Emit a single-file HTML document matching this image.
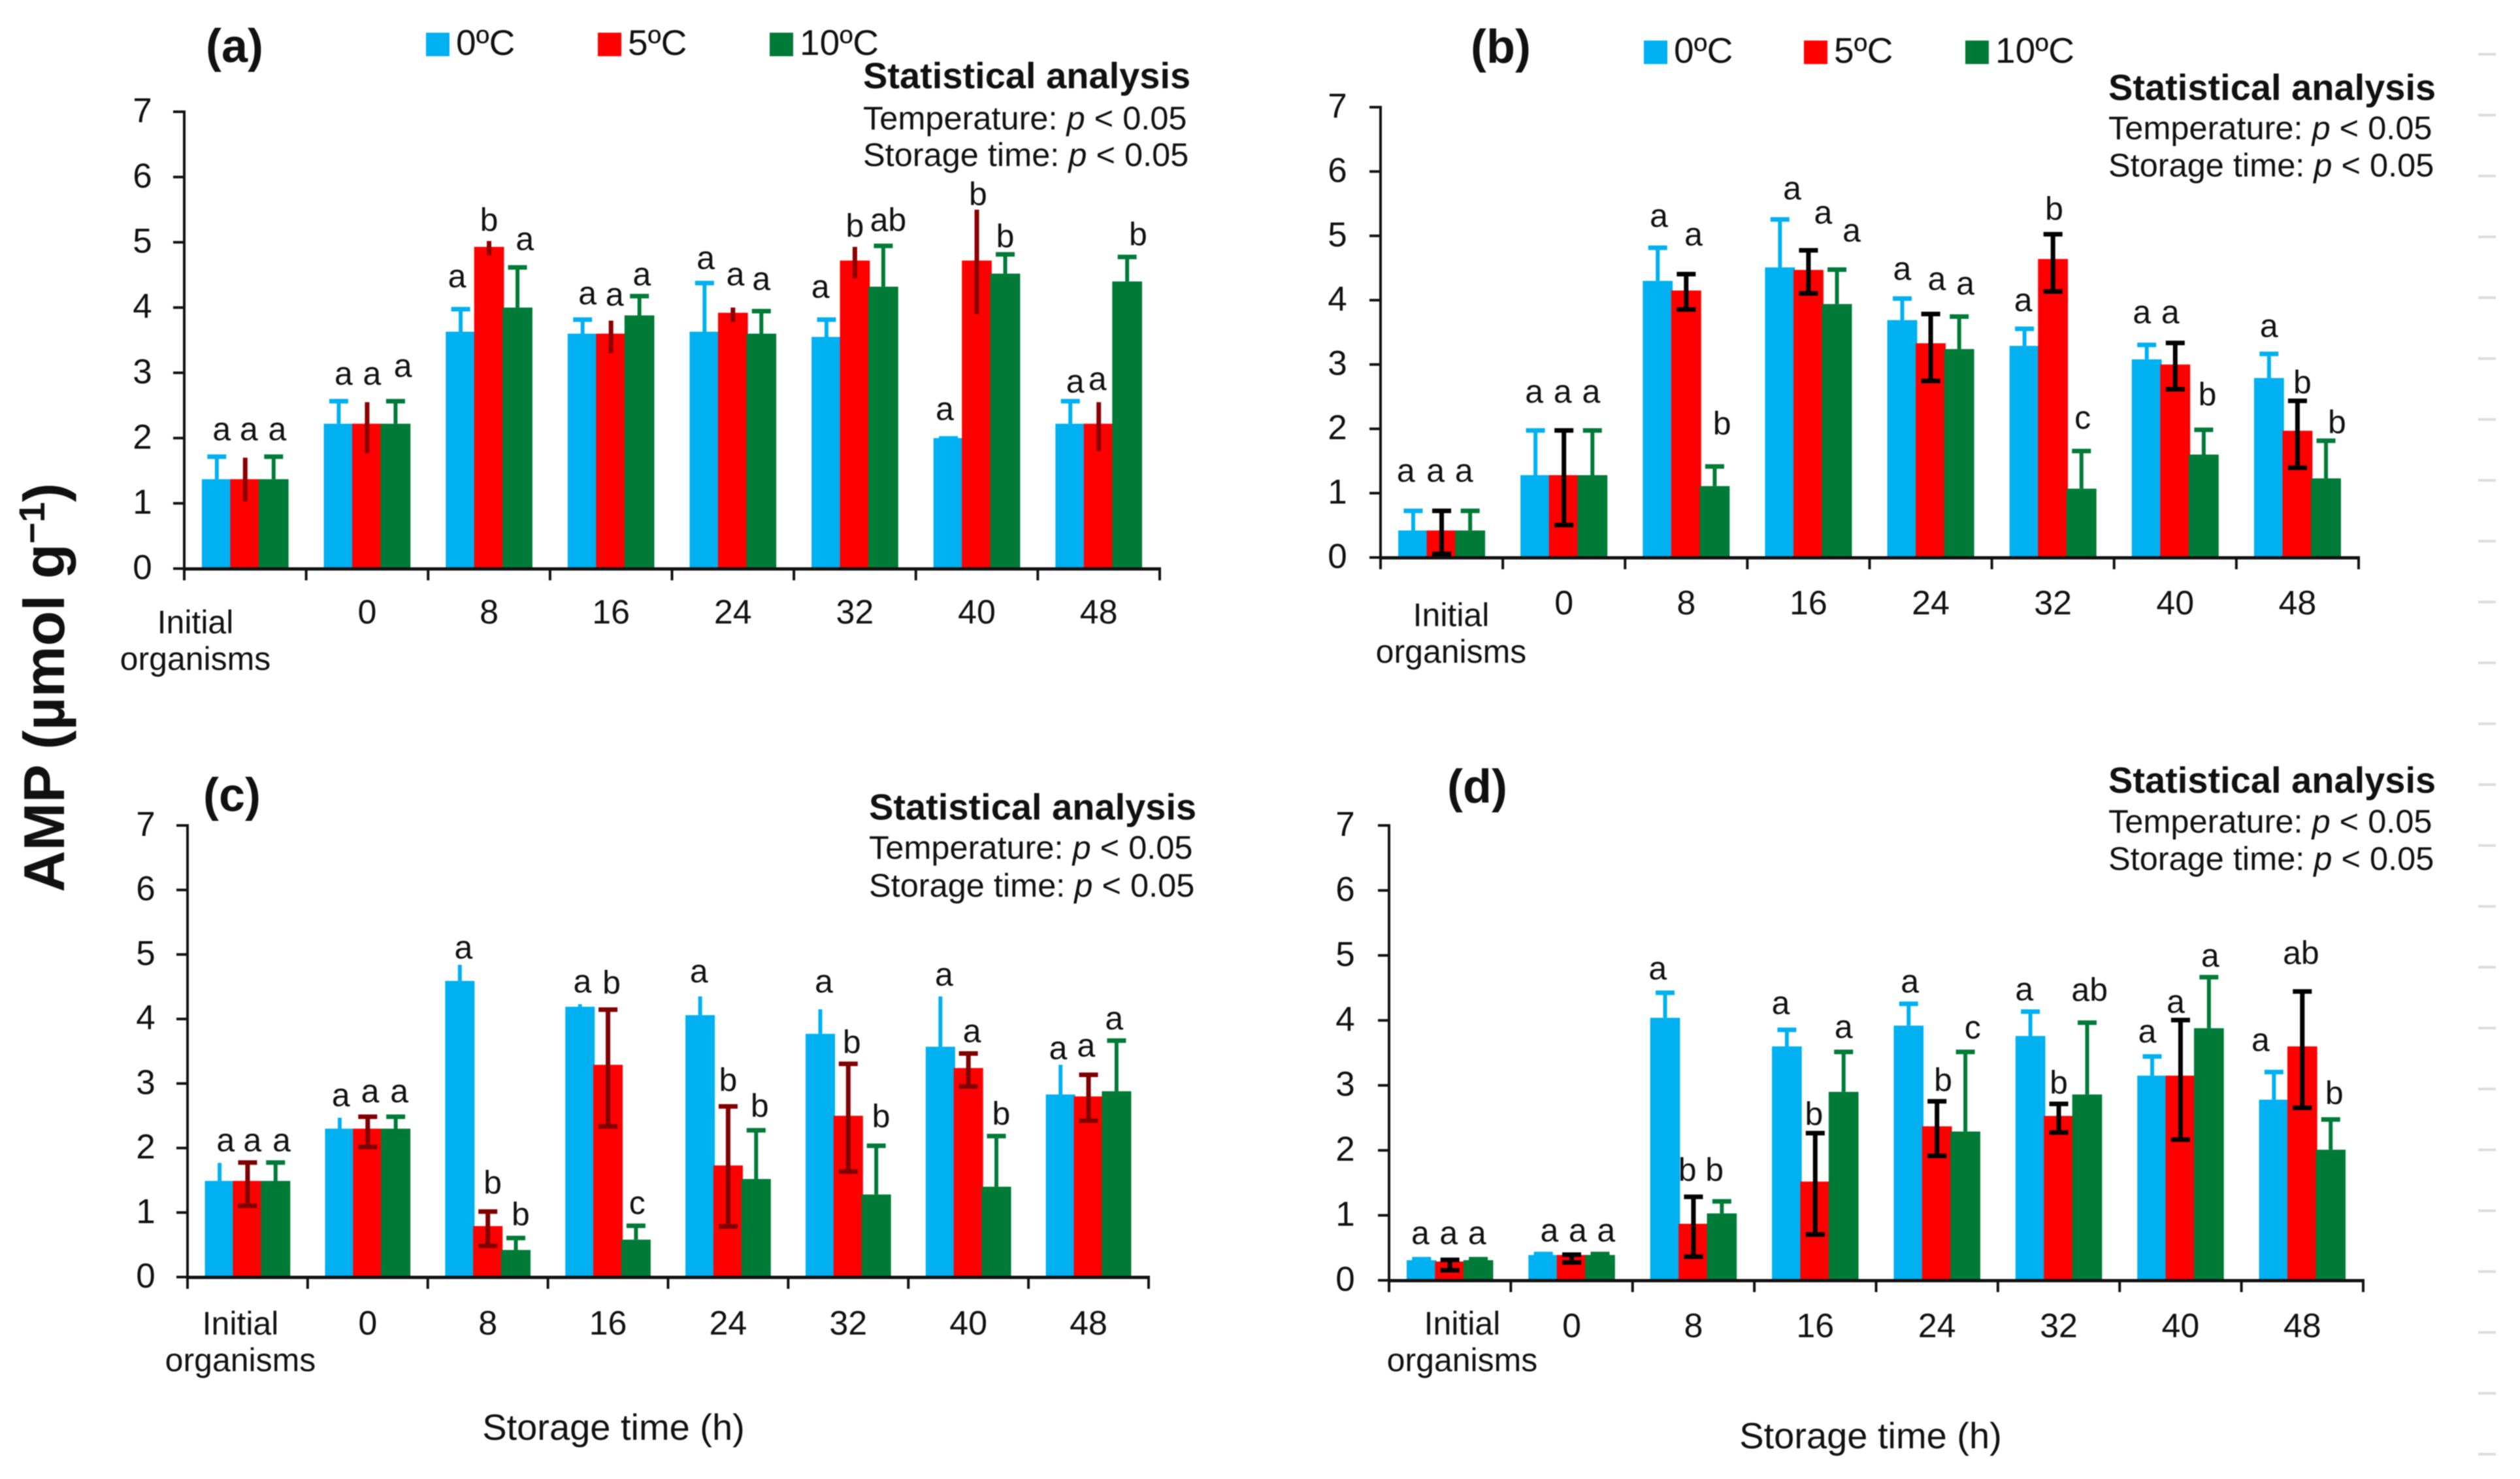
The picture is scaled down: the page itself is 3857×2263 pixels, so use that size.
<!DOCTYPE html>
<html lang="en">
<head>
<meta charset="utf-8">
<title>AMP content during storage</title>
<style>
html,body{margin:0;padding:0;background:#fff;}
svg{display:block;filter:blur(0.9px);}
text{font-family:"Liberation Sans",Arial,sans-serif;fill:#111;}
.leg{font-size:55px;}
.st{font-size:50.5px;}
.sb{font-size:56px;font-weight:bold;}
.pt{font-size:72px;font-weight:bold;text-anchor:middle;}
.xt{font-size:56px;text-anchor:middle;}
</style>
</head>
<body>
<svg id="figure" xmlns="http://www.w3.org/2000/svg" width="3857" height="2263" viewBox="0 0 3857 2263">
  <rect x="0" y="0" width="3857" height="2263" fill="#fff"/>
  <text transform="translate(98,1052) rotate(-90)" text-anchor="middle" font-size="88" font-weight="bold">AMP (µmol g<tspan dy="-30" font-size="56">−1</tspan><tspan dy="30">)</tspan></text>

  <g>
    <text class="pt" x="359" y="95">(a)</text>
    <rect x="652" y="50" width="36" height="36" fill="#00B0F0"/>
    <text class="leg" x="698" y="84">0ºC</text>
    <rect x="915" y="50" width="36" height="36" fill="#FF0000"/>
    <text class="leg" x="961" y="84">5ºC</text>
    <rect x="1178" y="50" width="36" height="36" fill="#007A37"/>
    <text class="leg" x="1224" y="84">10ºC</text>
    <text class="sb" x="1321" y="135">Statistical analysis</text>
    <text class="st" x="1321" y="198">Temperature: <tspan font-style="italic">p</tspan> &lt; 0.05</text>
    <text class="st" x="1321" y="254">Storage time: <tspan font-style="italic">p</tspan> &lt; 0.05</text>
  </g>

  <g>
    <text class="pt" x="2297" y="96">(b)</text>
    <rect x="2516" y="62" width="36" height="36" fill="#00B0F0"/>
    <text class="leg" x="2562" y="96">0ºC</text>
    <rect x="2761" y="62" width="36" height="36" fill="#FF0000"/>
    <text class="leg" x="2807" y="96">5ºC</text>
    <rect x="3008" y="62" width="36" height="36" fill="#007A37"/>
    <text class="leg" x="3054" y="96">10ºC</text>
    <text class="sb" x="3227" y="153">Statistical analysis</text>
    <text class="st" x="3227" y="213">Temperature: <tspan font-style="italic">p</tspan> &lt; 0.05</text>
    <text class="st" x="3227" y="270">Storage time: <tspan font-style="italic">p</tspan> &lt; 0.05</text>
  </g>

  <g>
    <text class="pt" x="355" y="1241">(c)</text>
    <text class="sb" x="1330" y="1254">Statistical analysis</text>
    <text class="st" x="1330" y="1314">Temperature: <tspan font-style="italic">p</tspan> &lt; 0.05</text>
    <text class="st" x="1330" y="1372">Storage time: <tspan font-style="italic">p</tspan> &lt; 0.05</text>
    <text class="xt" x="939" y="2203">Storage time (h)</text>
  </g>

  <g>
    <text class="pt" x="2261" y="1228">(d)</text>
    <text class="sb" x="3227" y="1213">Statistical analysis</text>
    <text class="st" x="3227" y="1274">Temperature: <tspan font-style="italic">p</tspan> &lt; 0.05</text>
    <text class="st" x="3227" y="1331">Storage time: <tspan font-style="italic">p</tspan> &lt; 0.05</text>
    <text class="xt" x="2863" y="2216">Storage time (h)</text>
  </g>
</svg>

<script>
// Shared categories and tick labels
const categories = ['Initial organisms', '0', '8', '16', '24', '32', '40', '48'];
const yTicks = [0, 1, 2, 3, 4, 5, 6, 7];
const seriesNames = ['0c', '5c', '10c'];

// Panel (a)
const aBlue = [1.37, 2.22, 3.63, 3.6, 3.63, 3.55, 2.0, 2.22];
const aRed = [1.37, 2.22, 4.93, 3.6, 3.92, 4.72, 4.72, 2.22];
const aGreen = [1.37, 2.22, 4.0, 3.88, 3.6, 4.32, 4.52, 4.4];
const aBlueTop = [1.72, 2.57, 3.98, 3.82, 4.38, 3.82, 2.0, 2.57];
const aRedTop = [1.7, 2.55, 5.02, 3.8, 4.0, 4.93, 5.5, 2.55];
const aRedLow = [1.03, 1.77, 4.8, 3.3, 3.78, 4.45, 3.9, 1.8];
const aGreenTop = [1.72, 2.57, 4.62, 4.18, 3.95, 4.95, 4.82, 4.78];
const aBlueLetters = ['a', 'a', 'a', 'a', 'a', 'a', 'a', 'a'];
const aRedLetters = ['a', 'a', 'b', 'a', 'a', 'b', 'b', 'a'];
const aGreenLetters = ['a', 'a', 'a', 'a', 'a', 'ab', 'b', 'b'];
const aBlueLevels = [1.97, 2.82, 4.31, 4.05, 4.59, 4.15, 2.28, 2.7];
const aRedLevels = [1.97, 2.82, 5.17, 4.03, 4.34, 5.08, 5.57, 2.74];
const aGreenLevels = [1.97, 2.94, 4.88, 4.34, 4.27, 5.17, 4.92, 4.95];
const aBlueNudge = [4, 4, -3, 4, 1, -5, -3, 4];
const aRedNudge = [3, 4, 0, 3, 2, 0, 1, -1];
const aGreenNudge = [3, 6, 6, 2, 0, 4, 0, 9];

// Panel (b)
const bBlue = [0.42, 1.28, 4.3, 4.51, 3.69, 3.29, 3.08, 2.79];
const bRed = [0.42, 1.28, 4.15, 4.47, 3.33, 4.64, 3.0, 1.97];
const bGreen = [0.42, 1.28, 1.11, 3.94, 3.24, 1.07, 1.6, 1.23];
const bBlueTop = [0.73, 1.98, 4.82, 5.26, 4.03, 3.56, 3.31, 3.17];
const bRedTop = [0.73, 1.98, 4.41, 4.78, 3.79, 5.03, 3.34, 2.44];
const bRedLow = [0.06, 0.51, 3.86, 4.11, 2.75, 4.14, 2.62, 1.4];
const bGreenTop = [0.73, 1.98, 1.42, 4.48, 3.75, 1.66, 1.99, 1.82];
const bBlueLetters = ['a', 'a', 'a', 'a', 'a', 'a', 'a', 'a'];
const bRedLetters = ['a', 'a', 'a', 'a', 'a', 'b', 'a', 'b'];
const bGreenLetters = ['a', 'a', 'b', 'a', 'a', 'c', 'b', 'b'];
const bBlueLevels = [1.18, 2.41, 5.14, 5.57, 4.32, 3.83, 3.64, 3.43];
const bRedLevels = [1.18, 2.41, 4.85, 5.19, 4.16, 5.25, 3.64, 2.55];
const bGreenLevels = [1.18, 2.41, 1.91, 4.91, 4.09, 2.0, 2.36, 1.93];
const bBlueNudge = [-6, -1, 1, 10, 0, -1, -4, 0];
const bRedNudge = [-5, -1, 6, 12, 5, 1, -4, 4];
const bGreenNudge = [-5, -1, 6, 12, 5, 1, 3, 9];

// Panel (c)
const cBlue = [1.49, 2.3, 4.59, 4.19, 4.06, 3.77, 3.57, 2.83];
const cRed = [1.49, 2.3, 0.79, 3.29, 1.73, 2.5, 3.24, 2.8];
const cGreen = [1.49, 2.3, 0.42, 0.58, 1.52, 1.28, 1.4, 2.88];
const cBlueTop = [1.77, 2.47, 4.84, 4.23, 4.35, 4.15, 4.35, 3.29];
const cRedTop = [1.78, 2.49, 1.02, 4.15, 2.65, 3.31, 3.47, 3.14];
const cRedLow = [1.11, 2.02, 0.49, 2.34, 0.79, 1.64, 2.96, 2.43];
const cGreenTop = [1.78, 2.49, 0.61, 0.8, 2.28, 2.04, 2.19, 3.67];
const cBlueLetters = ['a', 'a', 'a', 'a', 'a', 'a', 'a', 'a'];
const cRedLetters = ['a', 'a', 'b', 'b', 'b', 'b', 'a', 'a'];
const cGreenLetters = ['a', 'a', 'b', 'c', 'b', 'b', 'b', 'a'];
const cBlueLevels = [1.95, 2.65, 4.94, 4.41, 4.57, 4.41, 4.52, 3.38];
const cRedLevels = [1.95, 2.71, 1.29, 4.39, 2.88, 3.47, 3.64, 3.42];
const cGreenLevels = [1.95, 2.71, 0.8, 0.98, 2.48, 2.32, 2.36, 3.84];
const cBlueNudge = [5, 1, 3, 2, -1, 3, 3, -2];
const cRedNudge = [4, 2, 4, 3, 0, 3, 3, -2];
const cGreenNudge = [5, 3, 4, 1, 3, 4, 4, -2];

// Panel (d)
const dBlue = [0.31, 0.39, 4.04, 3.6, 3.92, 3.76, 3.15, 2.78];
const dRed = [0.29, 0.39, 0.87, 1.52, 2.37, 2.53, 3.15, 3.6];
const dGreen = [0.31, 0.39, 1.03, 2.9, 2.29, 2.86, 3.88, 2.01];
const dBlueTop = [0.33, 0.41, 4.43, 3.86, 4.26, 4.14, 3.45, 3.21];
const dRedTop = [0.32, 0.4, 1.29, 2.27, 2.76, 2.72, 4.01, 4.45];
const dRedLow = [0.16, 0.28, 0.37, 0.71, 1.92, 2.28, 2.17, 2.66];
const dGreenTop = [0.33, 0.41, 1.22, 3.52, 3.52, 3.97, 4.67, 2.48];
const dBlueLetters = ['a', 'a', 'a', 'a', 'a', 'a', 'a', 'a'];
const dRedLetters = ['a', 'a', 'b', 'b', 'b', 'b', 'a', 'ab'];
const dGreenLetters = ['a', 'a', 'b', 'a', 'c', 'ab', 'a', 'b'];
const dBlueLevels = [0.56, 0.6, 4.63, 4.1, 4.43, 4.31, 3.66, 3.53];
const dRedLevels = [0.56, 0.6, 1.53, 2.39, 2.91, 2.87, 4.12, 4.87];
const dGreenLevels = [0.56, 0.6, 1.53, 3.73, 3.72, 4.3, 4.83, 2.71];
const dBlueNudge = [-1, 5, -6, -5, 1, -5, -4, -11];
const dRedNudge = [-1, 5, -5, -1, 5, 0, -4, -1];
const dGreenNudge = [-1, 5, -6, 0, 6, 2, 1, 3];

const NS = 'http://www.w3.org/2000/svg';
const fig = document.getElementById('figure');

function make(tag, parent, attrs, content) {
  const el = document.createElementNS(NS, tag);
  for (const k in attrs) el.setAttribute(k, attrs[k]);
  if (content !== undefined) el.textContent = content;
  parent.appendChild(el);
  return el;
}

function drawPanel(p) {
  const group = make('g', fig, {});
  
  

  const slot = (p.right - p.left) / categories.length;
  const unit = (p.y0 - p.y7) / (yTicks.length - 1);
  const yScale = function (v) { return p.y0 - v * unit; };
  const xCenter = function (i) { return p.left + (i + 0.5) * slot; };
  const xBar = function (i, s) { return xCenter(i) + (s - 1) * slot * 0.233; };
  const barW = slot * 0.245;
  const capW = 29;

  // Y ticks and labels
  yTicks.forEach(function (t) {
    const tick = make('rect', group, { x: p.left - 17, y: yScale(t) - 2, width: 17, height: 4, fill: '#111' });
    
    
    const lab = make('text', group, { x: p.yLabelX, y: yScale(t) + 16, 'font-size': 53, 'text-anchor': 'middle' }, String(t));
    
    
  });

  // Series
  p.values.forEach(function (vals, s) {
    vals.forEach(function (v, i) {
      const cx = xBar(i, s);
      const bar = make('rect', group, { x: cx - barW / 2, y: yScale(v), width: barW, height: p.y0 - yScale(v), fill: p.colors[s] });
      
      

      const hi = yScale(p.tops[s][i]);
      const lo = p.lows[s] ? yScale(p.lows[s][i]) : yScale(v);
      const stemW = s === 1 ? 7 : 6;
      const stem = make('rect', group, { x: cx - stemW / 2, y: hi, width: stemW, height: Math.max(lo - hi, 0), fill: p.errColors[s] });
      
      
      if (p.caps[s]) {
        const cap = make('rect', group, { x: cx - capW / 2, y: hi - 3, width: capW, height: 7, fill: p.errColors[s] });
        
        
        if (p.lows[s]) {
          const capLow = make('rect', group, { x: cx - capW / 2, y: lo - 3, width: capW, height: 7, fill: p.errColors[s] });
          
          
        }
      }
    });
  });

  // Axes
  const yAxis = make('rect', group, { x: p.left - 2, y: p.y7 - 2, width: 4, height: p.y0 - p.y7 + 4, fill: '#111' });
  
  
  const xAxis = make('rect', group, { x: p.left - 2, y: p.y0 - 2, width: p.right - p.left + 4, height: 5, fill: '#111' });
  
  
  for (let i = 0; i <= categories.length; i++) {
    const xt = make('rect', group, { x: p.left + i * slot - 2, y: p.y0, width: 4, height: 18, fill: '#111' });
    
    
  }

  // Category labels
  categories.forEach(function (c, i) {
    if (i === 0) {
      const parts = c.split(' ');
      const l1 = make('text', group, { x: p.initX, y: p.initY, 'font-size': 50, 'text-anchor': 'middle' }, parts[0]);
      
      
      const l2 = make('text', group, { x: p.initX, y: p.initY + 56, 'font-size': 50, 'text-anchor': 'middle' }, parts[1]);
      
      
    } else {
      const lab = make('text', group, { x: xCenter(i), y: p.numY, 'font-size': 52, 'text-anchor': 'middle' }, c);
      
      
    }
  });

  // Significance letters
  p.letters.forEach(function (arr, s) {
    arr.forEach(function (letter, i) {
      const lx = xBar(i, s) + p.nudges[s][i] / 100 * slot;
      const t = make('text', group, { x: lx, y: yScale(p.levels[s][i]), 'font-size': 50, 'text-anchor': 'middle' }, letter);
      
      
    });
  });
}

const palette = ['#00B0F0', '#FF0000', '#007A37'];

drawPanel({
  id: 'a', left: 282, right: 1775, y0: 870, y7: 171, yLabelX: 218,
  initX: 299, initY: 969, numY: 954, colors: palette,
  errColors: ['#00B0F0', '#8B0000', '#007A37'], caps: [true, false, true],
  values: [aBlue, aRed, aGreen], tops: [aBlueTop, aRedTop, aGreenTop], lows: [null, aRedLow, null],
  letters: [aBlueLetters, aRedLetters, aGreenLetters], levels: [aBlueLevels, aRedLevels, aGreenLevels], nudges: [aBlueNudge, aRedNudge, aGreenNudge]
});
drawPanel({
  id: 'b', left: 2113, right: 3610, y0: 853, y7: 164, yLabelX: 2047,
  initX: 2221, initY: 958, numY: 940, colors: palette,
  errColors: ['#00B0F0', '#000000', '#007A37'], caps: [true, true, true],
  values: [bBlue, bRed, bGreen], tops: [bBlueTop, bRedTop, bGreenTop], lows: [null, bRedLow, null],
  letters: [bBlueLetters, bRedLetters, bGreenLetters], levels: [bBlueLevels, bRedLevels, bGreenLevels], nudges: [bBlueNudge, bRedNudge, bGreenNudge]
});
drawPanel({
  id: 'c', left: 287, right: 1758, y0: 1954, y7: 1263, yLabelX: 223,
  initX: 368, initY: 2042, numY: 2042, colors: palette,
  errColors: ['#00B0F0', '#7F0000', '#007A37'], caps: [false, true, true],
  values: [cBlue, cRed, cGreen], tops: [cBlueTop, cRedTop, cGreenTop], lows: [null, cRedLow, null],
  letters: [cBlueLetters, cRedLetters, cGreenLetters], levels: [cBlueLevels, cRedLevels, cGreenLevels], nudges: [cBlueNudge, cRedNudge, cGreenNudge]
});
drawPanel({
  id: 'd', left: 2126, right: 3617, y0: 1959, y7: 1263, yLabelX: 2059,
  initX: 2238, initY: 2042, numY: 2046, colors: palette,
  errColors: ['#00B0F0', '#000000', '#007A37'], caps: [true, true, true],
  values: [dBlue, dRed, dGreen], tops: [dBlueTop, dRedTop, dGreenTop], lows: [null, dRedLow, null],
  letters: [dBlueLetters, dRedLetters, dGreenLetters], levels: [dBlueLevels, dRedLevels, dGreenLevels], nudges: [dBlueNudge, dRedNudge, dGreenNudge]
});

// Faint scan marks along the right edge
for (let k = 0; k < 24; k++) {
  const mark = make('rect', fig, { x: 3793, y: 81 + k * 93.13, width: 27, height: 4, fill: '#dcdcdc' });
  
  
}
</script>
</body>
</html>
